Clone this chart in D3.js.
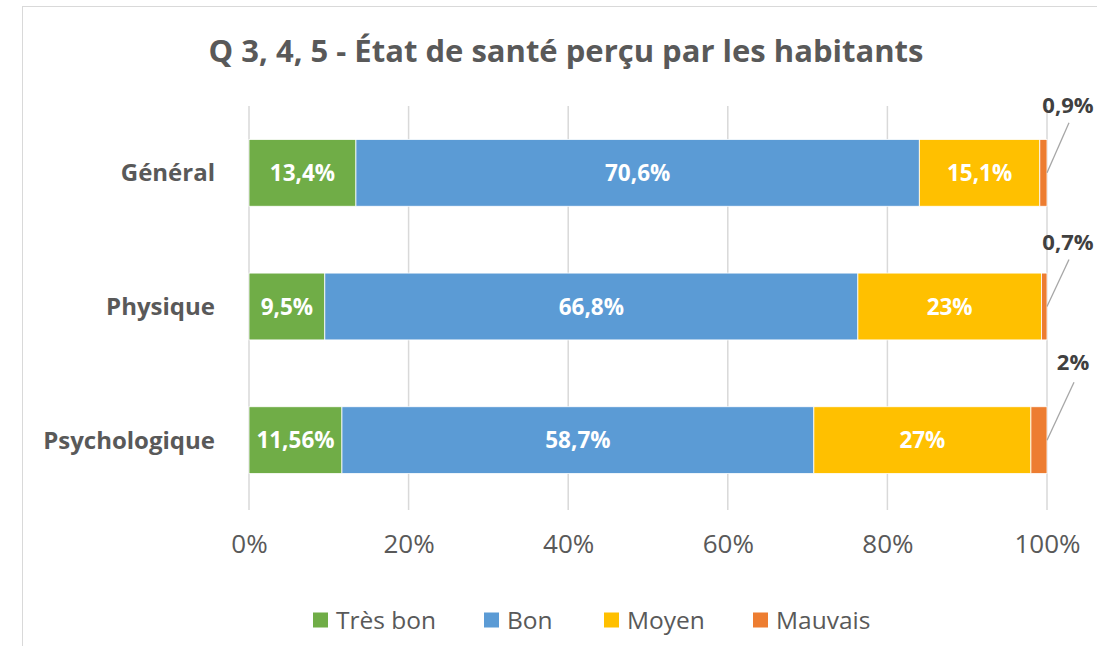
<!DOCTYPE html>
<html>
<head>
<meta charset="utf-8">
<script src="https://cdn.jsdelivr.net/npm/d3@7"></script>
<style>
  body { margin: 0; background: #fff; }
  text { font-family: "Open Sans", "Noto Sans", sans-serif; }
</style>
</head>
<body>
<svg id="chart" width="1097" height="646"></svg>
<script>
// data
let categories = ["Général", "Physique", "Psychologique"],
  series = ["Très bon", "Bon", "Moyen", "Mauvais"],
  colors = ["#70ad47", "#5b9bd5", "#ffc000", "#ed7d31"],
  values = {
    "Très bon": [13.4, 9.5, 11.56],
    "Bon": [70.6, 66.8, 58.7],
    "Moyen": [15.1, 23, 27],
    "Mauvais": [0.9, 0.7, 2]
  },
  labels = {
    "Très bon": ["13,4%", "9,5%", "11,56%"],
    "Bon": ["70,6%", "66,8%", "58,7%"],
    "Moyen": ["15,1%", "23%", "27%"],
    "Mauvais": ["0,9%", "0,7%", "2%"]
  },
  ticks = [0, 0.2, 0.4, 0.6, 0.8, 1];

let svg = d3.select("#chart"),
  grey = "#595959";

// chart frame
svg.append("rect")
  .attr("x", 22.5).attr("y", 6.5)
  .attr("width", 1100).attr("height", 700)
  .attr("fill", "white").attr("stroke", "#d9d9d9");

svg.append("text")
  .attr("x", 566).attr("y", 62)
  .attr("text-anchor", "middle")
  .attr("font-size", 31).attr("font-weight", "bold")
  .attr("fill", grey)
  .text("Q 3, 4, 5 - État de santé perçu par les habitants");

let x = d3.scaleLinear().domain([0, 1]).range([249, 1047]),
  y = d3.scaleBand().domain(categories).range([106, 507]).paddingInner(0.5).paddingOuter(0.25);

// gridlines
svg.append("g")
  .selectAll("line")
  .data(ticks).enter()
  .append("line")
  .attr("x1", d => x(d)).attr("x2", d => x(d))
  .attr("y1", 106).attr("y2", 510)
  .attr("stroke", "#d9d9d9").attr("stroke-width", 1.5);

// stack, normalised like a 100% stacked chart
let rows = categories.map((c, i) => {
  let r = {cat: c};
  series.forEach(s => r[s] = values[s][i]);
  return r;
});
let stacked = d3.stack().keys(series).offset(d3.stackOffsetExpand)(rows);

let layers = svg.append("g")
  .selectAll("g")
  .data(stacked).enter()
  .append("g")
  .attr("fill", (d, i) => colors[i]);

layers.selectAll("rect")
  .data(d => d).enter()
  .append("rect")
  .attr("x", d => x(d[0]))
  .attr("y", d => y(d.data.cat))
  .attr("width", d => x(d[1]) - x(d[0]))
  .attr("height", y.bandwidth())
  .attr("stroke", "white").attr("stroke-width", 0.8);

// inside labels
stacked.slice(0, 3).forEach(layer => {
  svg.append("g")
    .selectAll("text")
    .data(layer).enter()
    .append("text")
    .attr("x", d => (x(d[0]) + x(d[1])) / 2)
    .attr("y", d => y(d.data.cat) + y.bandwidth() / 2)
    .attr("dy", "0.36em")
    .attr("text-anchor", "middle")
    .attr("font-size", 22.5).attr("font-weight", "bold")
    .attr("fill", "white")
    .text((d, i) => labels[layer.key][i]);
});

// outside labels for Mauvais with leader lines
let last = stacked[3],
  offs = [[22, -50], [22, -47], [27, -58]],
  lift = [10, 10, 12];
let callouts = svg.append("g")
  .selectAll("g")
  .data(last).enter()
  .append("g");
callouts.append("line")
  .attr("x1", d => x(d[1]))
  .attr("y1", d => y(d.data.cat) + y.bandwidth() / 2)
  .attr("x2", (d, i) => x(d[1]) + offs[i][0])
  .attr("y2", (d, i) => y(d.data.cat) + y.bandwidth() / 2 + offs[i][1])
  .attr("stroke", "#a6a6a6").attr("stroke-width", 1.3);
callouts.append("text")
  .attr("x", (d, i) => x(d[1]) + offs[i][0] - 1)
  .attr("y", (d, i) => y(d.data.cat) + y.bandwidth() / 2 + offs[i][1] - lift[i])
  .attr("text-anchor", "middle")
  .attr("font-size", 22).attr("font-weight", "bold")
  .attr("fill", "#404040")
  .text((d, i) => labels["Mauvais"][i]);

// category axis
svg.append("g")
  .selectAll("text")
  .data(categories).enter()
  .append("text")
  .attr("x", 215)
  .attr("y", d => y(d) + y.bandwidth() / 2)
  .attr("dy", "0.36em")
  .attr("text-anchor", "end")
  .attr("font-size", 24).attr("font-weight", "bold")
  .attr("fill", grey)
  .text(d => d);

// value axis
let xAxis = svg.append("g")
  .attr("transform", "translate(0,535)")
  .call(d3.axisBottom(x).tickValues(ticks).tickFormat(d3.format(".0%")).tickSize(0).tickPadding(0));
xAxis.select(".domain").remove();
xAxis.selectAll("text")
  .attr("font-size", 26).attr("fill", grey)
  .attr("font-family", "Open Sans, sans-serif");

// legend
let legX = [313, 484, 604, 753];
let leg = svg.append("g")
  .selectAll("g")
  .data(series).enter()
  .append("g")
  .attr("transform", (d, i) => `translate(${legX[i]},620)`);
leg.append("rect")
  .attr("x", 0).attr("y", -7.5)
  .attr("width", 15).attr("height", 15)
  .attr("fill", (d, i) => colors[i]);
leg.append("text")
  .attr("x", 23).attr("dy", "0.36em")
  .attr("font-size", 24.5).attr("fill", grey)
  .text(d => d);
</script>
</body>
</html>
